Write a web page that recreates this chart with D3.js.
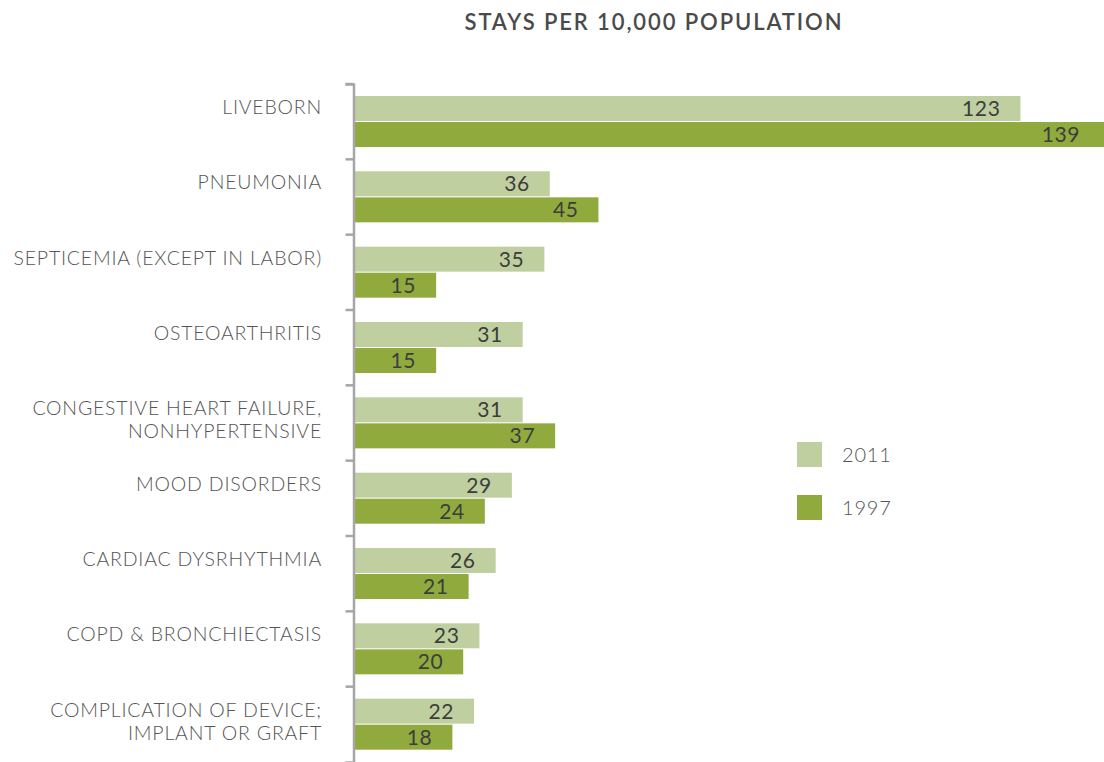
<!DOCTYPE html>
<html>
<head>
<meta charset="utf-8">
<script src="https://cdn.jsdelivr.net/npm/d3@7"></script>
<style>
  body { margin: 0; background: #fff; }
  text { font-family: Lato, "Open Sans", sans-serif; }
</style>
</head>
<body>
<div id="chart"></div>
<script>
// data
var categories = [
  ["LIVEBORN"],
  ["PNEUMONIA"],
  ["SEPTICEMIA (EXCEPT IN LABOR)"],
  ["OSTEOARTHRITIS"],
  ["CONGESTIVE HEART FAILURE,", "NONHYPERTENSIVE"],
  ["MOOD DISORDERS"],
  ["CARDIAC DYSRHYTHMIA"],
  ["COPD & BRONCHIECTASIS"],
  ["COMPLICATION OF DEVICE;", "IMPLANT OR GRAFT"]
];
var series = ["2011", "1997"];
var values2011 = [123, 36, 35, 31, 31, 29, 26, 23, 22];
var values1997 = [139, 45, 15, 15, 37, 24, 21, 20, 18];
var colors = ["#bfcf9f", "#90aa3e"];

var width = 1104, height = 762;

var svg = d3.select("#chart").append("svg")
    .attr("width", width)
    .attr("height", height);

var keys = categories.map(function(c) { return c.join(" "); });

var y = d3.scaleBand()
    .domain(keys)
    .range([84, 762]);

var ySub = d3.scaleBand()
    .domain(series)
    .range([12, 63])
    .paddingInner(0.04);

var x = d3.scaleLinear()
    .domain([0, 139])
    .range([355, 1107]);

// title
svg.append("text")
    .attr("x", 654)
    .attr("y", 30)
    .attr("text-anchor", "middle")
    .style("font-size", "22px")
    .style("font-weight", "600")
    .style("letter-spacing", "1.9px")
    .style("fill", "#4a4a4a")
    .text("STAYS PER 10,000 POPULATION");

// bars
var rows = keys.map(function(k, i) {
  return {key: k, vals: [values2011[i], values1997[i]]};
});

var groups = svg.selectAll("g.row")
    .data(rows)
    .enter().append("g")
    .attr("class", "row")
    .attr("transform", function(d) { return "translate(0," + y(d.key) + ")"; });

groups.selectAll("rect")
    .data(function(d) { return d.vals.map(function(v, j) { return {s: series[j], v: v, j: j}; }); })
    .enter().append("rect")
    .attr("x", x(0))
    .attr("y", function(d) { return ySub(d.s); })
    .attr("width", function(d) { return x(d.v) - x(0); })
    .attr("height", ySub.bandwidth())
    .style("fill", function(d) { return colors[d.j]; });

groups.selectAll("text.val")
    .data(function(d) { return d.vals.map(function(v, j) { return {s: series[j], v: v}; }); })
    .enter().append("text")
    .attr("class", "val")
    .attr("x", function(d) { return Math.min(x(d.v), width - 4) - 20; })
    .attr("y", function(d) { return ySub(d.s) + ySub.bandwidth() / 2 + 7.5; })
    .attr("text-anchor", "end")
    .style("font-size", "21px")
    .style("letter-spacing", "0.6px")
    .style("fill", "#3d3d3d")
    .text(function(d) { return d.v; });

// category labels
svg.selectAll("text.cat")
    .data(categories)
    .enter().append("text")
    .attr("class", "cat")
    .attr("text-anchor", "end")
    .style("font-size", "19.5px")
    .style("font-weight", "300")
    .style("letter-spacing", "0.8px")
    .style("fill", "#555")
    .each(function(c, i) {
      var t = d3.select(this);
      var top = y(keys[i]);
      c.forEach(function(line, k) {
        t.append("tspan")
          .attr("x", 322)
          .attr("y", top + 30 + k * 23)
          .text(line);
      });
    });

// axis, ticks on the band edges
var axis = svg.append("g")
    .attr("transform", "translate(353.5,0)")
    .call(d3.axisLeft(y).tickSize(8).tickSizeOuter(8).tickFormat(""));

axis.selectAll(".tick")
    .attr("transform", function(d) { return "translate(0," + y(d) + ")"; });
axis.selectAll("path, line")
    .attr("stroke", "#a6a6a6")
    .attr("stroke-width", 2.5);

// legend
var legend = svg.selectAll("g.legend")
    .data(series)
    .enter().append("g")
    .attr("class", "legend")
    .attr("transform", function(d, i) { return "translate(797," + (442 + i * 53) + ")"; });

legend.append("rect")
    .attr("width", 25)
    .attr("height", 25)
    .style("fill", function(d, i) { return colors[i]; });

legend.append("text")
    .attr("x", 45)
    .attr("y", 20)
    .style("font-size", "20px")
    .style("font-weight", "300")
    .style("letter-spacing", "0.8px")
    .style("fill", "#555")
    .text(function(d) { return d; });
</script>
</body>
</html>
